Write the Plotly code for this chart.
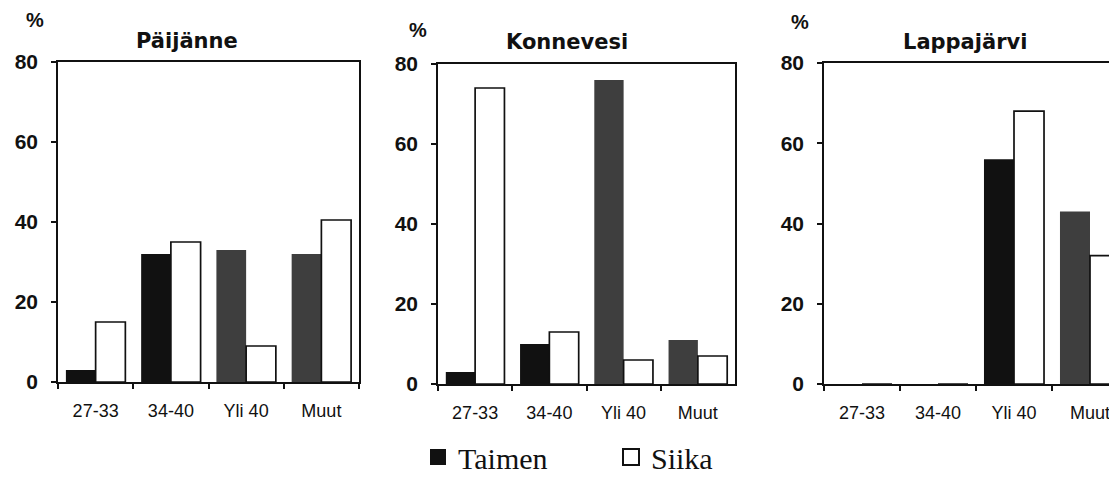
import plotly.graph_objects as go

# ---------------- data ----------------
categories = ["27-33", "34-40", "Yli 40", "Muut"]
lakes = ["Päijänne", "Konnevesi", "Lappajärvi"]
taimen_paijanne = [3, 32, 33, 32]
siika_paijanne = [15, 35, 9, 40.5]
taimen_konnevesi = [3, 10, 76, 11]
siika_konnevesi = [74, 13, 6, 7]
taimen_lappajarvi = [0, 0, 56, 43]
siika_lappajarvi = [0, 0, 68, 32]
y_ticks = [0, 20, 40, 60, 80]
series_names = ["Taimen", "Siika"]
unit_label = "%"

# ---------------- styles ----------------
W, H = 1117, 479
OFF_X, OFF_Y = 0, 8  # screen px -> figure px compensation
BLACK = "#111111"
DARK = "#3e3e3e"
taimen_colors = [
    [BLACK, BLACK, DARK, DARK],
    [BLACK, BLACK, DARK, DARK],
    [BLACK, BLACK, BLACK, DARK],
]
# panel plot areas in screen pixels (left, right, top, bottom)
panels = [
    dict(x0=50, x1=351, y0=62, y1=382),
    dict(x0=430, x1=727, y0=64, y1=384),
    dict(x0=816, x1=W, y0=63, y1=384),
]
cat_width_px = [75.25, 74.25, 76.0]
title_pos = [(179, 41), (559, 42), (957, 42)]
pct_pos = [(27, 20), (410, 30), (792, 22)]

def px_x(v):
    return (v - OFF_X) / W

def px_y(v):
    return 1 - (v - OFF_Y) / H

taimen_all = [taimen_paijanne, taimen_konnevesi, taimen_lappajarvi]
siika_all = [siika_paijanne, siika_konnevesi, siika_lappajarvi]

fig = go.Figure()
layout = dict(
    width=W, height=H, autosize=False,
    margin=dict(l=0, r=0, t=0, b=0, pad=0),
    paper_bgcolor="white", plot_bgcolor="white",
    barmode="group", bargap=0.21, bargroupgap=0,
    font=dict(family="Liberation Sans, Arial, sans-serif", color=BLACK),
    annotations=[],
)

for i in range(3):
    xa = "x" if i == 0 else f"x{i+1}"
    ya = "y" if i == 0 else f"y{i+1}"
    p = panels[i]
    fig.add_trace(go.Bar(
        x=categories, y=taimen_all[i], name=series_names[0],
        marker=dict(color=taimen_colors[i], line=dict(width=0)),
        xaxis=xa, yaxis=ya, showlegend=False,
    ))
    fig.add_trace(go.Bar(
        x=categories, y=siika_all[i], name=series_names[1],
        marker=dict(color="white", line=dict(color=BLACK, width=1.7)),
        xaxis=xa, yaxis=ya, showlegend=False,
    ))
    width_px = p["x1"] - p["x0"]
    xr = [-0.5, -0.5 + width_px / cat_width_px[i]]
    xkey = "xaxis" if i == 0 else f"xaxis{i+1}"
    ykey = "yaxis" if i == 0 else f"yaxis{i+1}"
    layout[xkey] = dict(
        domain=[px_x(p["x0"]), min(1.0, px_x(p["x1"]))],
        anchor=ya, type="category", categoryorder="array", categoryarray=categories,
        range=xr, tickson="boundaries", ticks="outside", ticklen=5, tickwidth=1.5,
        tickcolor=BLACK, showline=True, linecolor=BLACK, linewidth=1.5,
        mirror=True, showgrid=False, zeroline=False, automargin=False,
        tickfont=dict(family="Liberation Sans, Arial, sans-serif", size=18, color=BLACK),
        ticklabelstandoff=12,
    )
    layout[ykey] = dict(
        domain=[px_y(p["y1"]), px_y(p["y0"])],
        anchor=xa, range=[0, 80], tickvals=y_ticks,
        ticks="outside", ticklen=5, tickwidth=1.5, tickcolor=BLACK,
        showline=True, linecolor=BLACK, linewidth=1.5,
        mirror=(i < 2), showgrid=False, zeroline=False, automargin=False,
        tickfont=dict(family="Liberation Sans, Arial, sans-serif", size=21, color=BLACK,
                      weight="bold"),
        ticklabelstandoff=9,
    )
    tx, ty = title_pos[i]
    layout["annotations"].append(dict(
        text=lakes[i], xref="paper", yref="paper", x=px_x(tx), y=px_y(ty),
        xanchor="center", yanchor="middle", showarrow=False,
        font=dict(family="DejaVu Sans, sans-serif", size=21, color=BLACK, weight="bold"),
    ))
    qx, qy = pct_pos[i]
    layout["annotations"].append(dict(
        text=unit_label, xref="paper", yref="paper", x=px_x(qx), y=px_y(qy),
        xanchor="center", yanchor="middle", showarrow=False,
        font=dict(family="Liberation Sans, Arial, sans-serif", size=20, color=BLACK,
                  weight="bold"),
    ))

# legend-only traces
fig.add_trace(go.Scatter(
    x=[None], y=[None], mode="markers", name=series_names[0],
    marker=dict(symbol="square", size=16, color=BLACK, line=dict(width=0)),
    legend="legend", showlegend=True,
))
fig.add_trace(go.Scatter(
    x=[None], y=[None], mode="markers", name=series_names[1],
    marker=dict(symbol="square", size=16, color="white", line=dict(color=BLACK, width=2)),
    legend="legend2", showlegend=True,
))

legend_font = dict(family="Liberation Serif, Times New Roman, serif", size=30, color=BLACK)
layout["legend"] = dict(
    x=px_x(410), y=px_y(457), xanchor="left", yanchor="middle",
    bgcolor="rgba(0,0,0,0)", borderwidth=0, font=legend_font, itemsizing="trace",
)
layout["legend2"] = dict(
    x=px_x(603), y=px_y(457), xanchor="left", yanchor="middle",
    bgcolor="rgba(0,0,0,0)", borderwidth=0, font=legend_font, itemsizing="trace",
)

fig.update_layout(**layout)
fig.write_html("out.html")
